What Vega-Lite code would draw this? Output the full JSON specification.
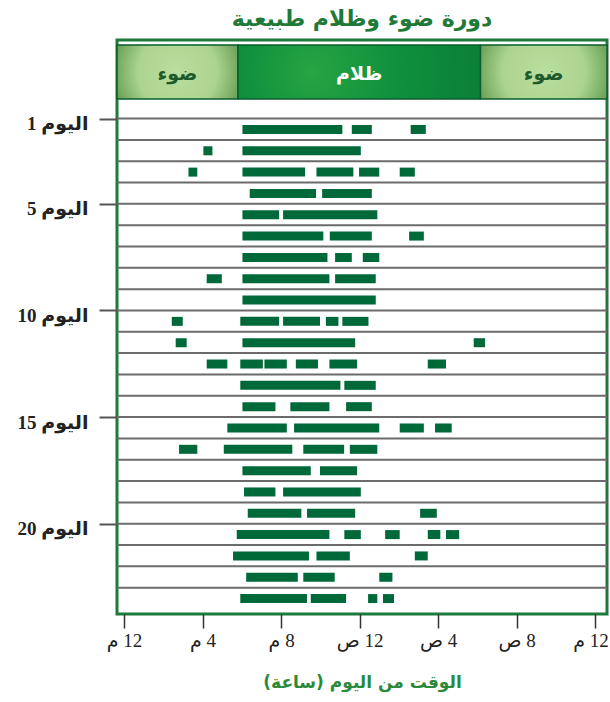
{
  "$schema": "https://vega.github.io/schema/vega-lite/v6.json",
  "width": 490,
  "height": 574,
  "autosize": "none",
  "padding": {"left": 117, "top": 40, "right": 3, "bottom": 88},
  "background": "white",
  "title": {"text": "دورة ضوء وظلام طبيعية", "font": "DejaVu Sans", "fontSize": 22, "fontWeight": "bold", "color": "#1f7a3a", "offset": 9},
  "config": {"view": {"stroke": "#1d7a3c", "strokeWidth": 3}},
  "datasets": {
    "days": [{"day":1},{"day":2},{"day":3},{"day":4},{"day":5},{"day":6},{"day":7},{"day":8},{"day":9},{"day":10},{"day":11},{"day":12},{"day":13},{"day":14},{"day":15},{"day":16},{"day":17},{"day":18},{"day":19},{"day":20},{"day":21},{"day":22},{"day":23}],
    "bands": [
      {"band": 1, "phase": "ضوء", "start": 11.64, "end": 17.8},
      {"band": 2, "phase": "ظلام", "start": 17.8, "end": 30.15},
      {"band": 3, "phase": "ضوء", "start": 30.15, "end": 36.6}
    ],
    "bars": [
      {"day":1,"start":18.03,"end":23.12},{"day":1,"start":23.6,"end":24.62},{"day":1,"start":26.6,"end":27.37},
      {"day":2,"start":16.04,"end":16.5},{"day":2,"start":18.03,"end":24.06},
      {"day":3,"start":15.28,"end":15.73},{"day":3,"start":18.03,"end":21.22},{"day":3,"start":21.8,"end":23.68},{"day":3,"start":23.97,"end":25.0},{"day":3,"start":26.04,"end":26.81},
      {"day":4,"start":18.4,"end":21.78},{"day":4,"start":22.09,"end":24.62},
      {"day":5,"start":18.03,"end":19.9},{"day":5,"start":20.1,"end":24.9},
      {"day":6,"start":18.03,"end":22.15},{"day":6,"start":22.48,"end":24.62},{"day":6,"start":26.52,"end":27.27},
      {"day":7,"start":18.03,"end":22.36},{"day":7,"start":22.75,"end":23.6},{"day":7,"start":24.16,"end":25.0},
      {"day":8,"start":16.21,"end":16.98},{"day":8,"start":18.03,"end":22.46},{"day":8,"start":22.75,"end":24.82},
      {"day":9,"start":18.03,"end":24.82},
      {"day":10,"start":14.43,"end":14.99},{"day":10,"start":17.92,"end":19.9},{"day":10,"start":20.1,"end":21.98},{"day":10,"start":22.28,"end":22.92},{"day":10,"start":23.12,"end":24.45},
      {"day":11,"start":14.63,"end":15.19},{"day":11,"start":18.03,"end":23.77},{"day":11,"start":29.81,"end":30.39},
      {"day":12,"start":16.21,"end":17.26},{"day":12,"start":17.92,"end":19.07},{"day":12,"start":19.15,"end":20.29},{"day":12,"start":20.75,"end":21.88},{"day":12,"start":22.46,"end":23.87},{"day":12,"start":27.47,"end":28.4},
      {"day":13,"start":17.92,"end":23.02},{"day":13,"start":23.22,"end":24.82},
      {"day":14,"start":18.03,"end":19.71},{"day":14,"start":20.47,"end":22.46},{"day":14,"start":23.31,"end":24.62},
      {"day":15,"start":17.26,"end":20.29},{"day":15,"start":20.66,"end":25.0},{"day":15,"start":26.04,"end":27.27},{"day":15,"start":27.84,"end":28.69},
      {"day":16,"start":14.8,"end":15.73},{"day":16,"start":17.08,"end":20.57},{"day":16,"start":21.13,"end":23.21},{"day":16,"start":23.5,"end":24.9},
      {"day":17,"start":18.03,"end":21.51},{"day":17,"start":21.98,"end":23.87},
      {"day":18,"start":18.11,"end":19.71},{"day":18,"start":20.1,"end":24.06},
      {"day":19,"start":18.3,"end":21.03},{"day":19,"start":21.32,"end":23.77},{"day":19,"start":27.08,"end":27.93},
      {"day":20,"start":17.74,"end":22.46},{"day":20,"start":23.22,"end":24.06},{"day":20,"start":25.3,"end":26.04},{"day":20,"start":27.47,"end":28.11},{"day":20,"start":28.4,"end":29.07},
      {"day":21,"start":17.55,"end":21.42},{"day":21,"start":21.8,"end":23.5},{"day":21,"start":26.81,"end":27.47},
      {"day":22,"start":18.22,"end":20.85},{"day":22,"start":21.13,"end":22.73},{"day":22,"start":25.0,"end":25.67},
      {"day":23,"start":17.92,"end":21.32},{"day":23,"start":21.51,"end":23.31},{"day":23,"start":24.43,"end":24.9},{"day":23,"start":25.19,"end":25.75}
    ]
  },
  "encoding": {
    "x": {"type": "quantitative", "scale": {"domain": [11.64, 36.6], "nice": false, "zero": false},
      "axis": {"values": [12, 16, 20, 24, 28, 32, 36],
        "labelExpr": "['م\u200e 12','م\u200e 4','م\u200e 8','ص\u200e 12','ص\u200e 4','ص\u200e 8','م\u200e 12'][(datum.value-12)/4]",
        "title": "الوقت من اليوم (ساعة)\u200f", "domain": false, "grid": false,
        "tickSize": 14, "tickColor": "#333333", "tickWidth": 1.5,
        "labelFont": "Liberation Serif, DejaVu Sans", "labelFontSize": 19, "labelColor": "#222222", "labelPadding": 3, "labelOverlap": false, "labelFlush": false,
        "labelAlign": {"condition": {"test": "datum.value >= 36", "value": "right"}, "value": "center"},
        "labelOffset": {"condition": {"test": "datum.value >= 36", "value": 13}, "value": 0},
        "titleFont": "DejaVu Sans", "titleFontSize": 17, "titleFontWeight": "bold", "titleColor": "#2a8a3c", "titlePadding": 24}},
    "y": {"type": "quantitative", "scale": {"domain": [-2.45, 24], "reverse": true, "nice": false, "zero": false},
      "axis": {"values": [1, 5, 10, 15, 20], "labelExpr": "'اليوم ' + datum.value", "title": null, "domain": false, "grid": false,
        "tickSize": 18, "tickColor": "#555555", "tickWidth": 2,
        "labelFont": "Liberation Serif, DejaVu Sans", "labelFontSize": 19, "labelFontWeight": "bold", "labelColor": "#222222",
        "labelPadding": 11, "labelOffset": 5, "labelOverlap": false}}
  },
  "layer": [
    {
      "data": {"name": "days"},
      "mark": {"type": "rule", "color": "#6b6b6b", "strokeWidth": 2},
      "encoding": {"y": {"field": "day"}}
    },
    {
      "data": {"name": "bands"},
      "transform": [{"filter": "datum.phase === 'ضوء'"}],
      "mark": {"type": "rect", "stroke": "#0b5e2d", "strokeWidth": 1.5,
        "fill": {"gradient": "radial", "x1": 0.5, "y1": 0.5, "r1": 0, "x2": 0.5, "y2": 0.5, "r2": 0.72,
          "stops": [{"offset": 0, "color": "#b9de9f"}, {"offset": 0.45, "color": "#acd48f"}, {"offset": 0.72, "color": "#6fa55c"}, {"offset": 1, "color": "#24703a"}]}},
      "encoding": {
        "x": {"field": "start"},
        "x2": {"field": "end"},
        "y": {"datum": -2.45},
        "y2": {"datum": 0.08}
      }
    },
    {
      "data": {"name": "bands"},
      "transform": [{"filter": "datum.phase === 'ظلام'"}],
      "mark": {"type": "rect", "stroke": "#0b5e2d", "strokeWidth": 1.5,
        "fill": {"gradient": "radial", "x1": 0.3, "y1": 0.5, "r1": 0, "x2": 0.4, "y2": 0.5, "r2": 0.8,
          "stops": [{"offset": 0, "color": "#27a443"}, {"offset": 0.4, "color": "#0f903d"}, {"offset": 1, "color": "#077733"}]}},
      "encoding": {
        "x": {"field": "start"},
        "x2": {"field": "end"},
        "y": {"datum": -2.45},
        "y2": {"datum": 0.08}
      }
    },
    {
      "data": {"name": "bands"},
      "transform": [{"fold": ["start", "end"], "as": ["edge", "hour"]}],
      "mark": {"type": "text", "font": "DejaVu Sans", "fontWeight": "bold", "fontSize": 19, "baseline": "middle", "align": "center"},
      "encoding": {
        "x": {"aggregate": "mean", "field": "hour"},
        "y": {"datum": -1.1},
        "detail": {"field": "band"},
        "text": {"field": "phase"},
        "color": {"field": "phase", "type": "nominal", "scale": {"domain": ["ضوء", "ظلام"], "range": ["#1e5a2a", "#ffffff"]}, "legend": null}
      }
    },
    {
      "data": {"name": "bars"},
      "mark": {"type": "bar", "orient": "horizontal", "size": 9, "yOffset": 10.9, "color": "#00693a"},
      "encoding": {
        "x": {"field": "start"},
        "x2": {"field": "end"},
        "y": {"field": "day"}
      }
    }
  ]
}
